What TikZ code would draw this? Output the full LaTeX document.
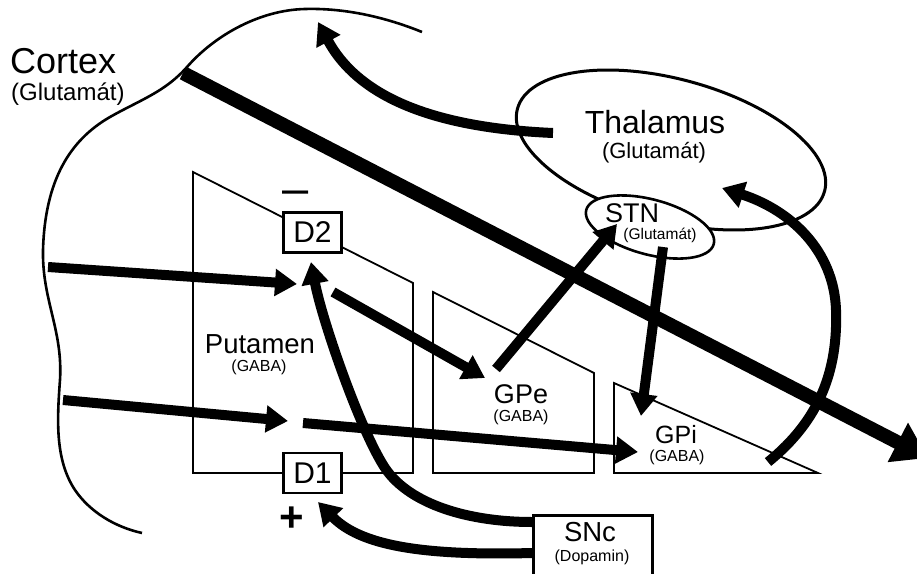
\documentclass[tikz,border=0pt]{standalone}
\usepackage{fontspec}
\setmainfont{Liberation Sans}
\usetikzlibrary{arrows.meta,shapes.geometric}
\newcommand{\txtsize}[1]{\fontsize{#1}{#1}\selectfont}

\begin{document}
\begin{tikzpicture}[x=1pt,y=-1pt,
  outline/.style={line width=2.6pt},
  thinline/.style={line width=1.8pt},
  arr/.style={line width=10pt,-{Triangle[length=22pt,width=26pt]}},
  bigarr/.style={line width=14pt,-{Triangle[length=34pt,width=42pt]}},
  lbl/.style={anchor=base,inner sep=0pt},
  dbox/.style={draw,fill=white,line width=2.6pt,minimum width=58.4pt,minimum height=40pt,inner sep=0pt}]

\useasboundingbox (0,0) rectangle (917,573);

% cortex outline
\draw[outline] (422,32) .. controls (380,15) and (340,8) .. (305,9)
  .. controls (260,10) and (215,35) .. (187,67)
  .. controls (165,92) and (140,100) .. (110,117)
  .. controls (70,140) and (45,180) .. (43,250)
  .. controls (42,300) and (63,330) .. (60,380)
  .. controls (57,420) and (55,460) .. (75,490)
  .. controls (90,512) and (115,527) .. (142,533);

% putamen, GPe, GPi outlines
\draw[thinline] (193,172) -- (413,283) -- (413,473) -- (193,473) -- cycle;
\draw[thinline] (433,292) -- (594,373) -- (594,473) -- (433,473) -- cycle;
\draw[thinline] (614,383) -- (818,473) -- (614,473) -- cycle;

% thalamus and subthalamic nucleus
\node[ellipse,draw,line width=3pt,minimum width=318pt,minimum height=142pt,inner sep=0pt,rotate=-15] (thal) at (671,150) {};
\node[ellipse,draw,fill=white,line width=2.6pt,minimum width=132pt,minimum height=55pt,inner sep=0pt,rotate=-15] (stn) at (650,227) {};

% receptor boxes and SNc
\node[dbox] (d2) at (312.5,232.5) {\txtsize{30}D2};
\node[dbox] (d1) at (312.5,473) {\txtsize{30}D1};
\node[draw,fill=white,line width=2.6pt,minimum width=119.4pt,minimum height=80pt,inner sep=0pt] (snc) at (593,555.3) {};

% arrow end points
\coordinate (ctxA) at (183,73);
\coordinate (ctxE) at (928,458);
\coordinate (thA) at (553,133);
\coordinate (thE) at (318,22);
\coordinate (c1A) at (48,267);
\coordinate (c1E) at (297,284);
\coordinate (c2A) at (63,400);
\coordinate (c2E) at (288,421);
\coordinate (gA) at (303,423);
\coordinate (gE) at (638,452);
\coordinate (d2A) at (333,292);
\coordinate (d2E) at (485,378);
\coordinate (geA) at (496,369);
\coordinate (geE) at (617,224);
\coordinate (stA) at (663,247);
\coordinate (stE) at (641,416);
\coordinate (giA) at (768,462);
\coordinate (giE) at (722,188);
\coordinate (snA) at (532,522);
\coordinate (snE) at (311,262);
\coordinate (snB) at (532,553);
\coordinate (snF) at (318,502);

% connectors
\draw[bigarr] (ctxA) -- (ctxE);
\draw[arr] (thA) .. controls (440,128) and (360,100) .. (thE);
\draw[arr] (c1A) -- (c1E);
\draw[arr] (c2A) -- (c2E);
\draw[arr] (gA) -- (gE);
\draw[arr] (d2A) -- (d2E);
\draw[arr] (geA) -- (geE);
\draw[arr] (stA) -- (stE);
\draw[arr] (giA) .. controls (820,420) and (838,370) .. (836,310)
  .. controls (834,250) and (790,210) .. (giE);
\draw[arr] (snA) .. controls (470,522) and (410,505) .. (385,468)
  .. controls (360,430) and (322,320) .. (snE);
\draw[arr] (snB) .. controls (420,556) and (360,545) .. (snF);

% labels
\node[lbl,anchor=base west] (ctxt) at (10,73) {\txtsize{36}Cortex};
\node[lbl,anchor=base west] (ctxg) at (11,100) {\txtsize{24}(Glutamát)};
\node[lbl] (thalt) at (655,133) {\txtsize{32}Thalamus};
\node[lbl] (thalg) at (654,158) {\txtsize{22}(Glutamát)};
\node[lbl] (stnt) at (632,222) {\txtsize{27}STN};
\node[lbl] (stng) at (660,239) {\txtsize{15.5}(Glutamát)};
\node[lbl] (putt) at (260,353) {\txtsize{27.5}Putamen};
\node[lbl] (putg) at (259,371) {\txtsize{16}(GABA)};
\node[lbl] (gpet) at (521,403) {\txtsize{27}GPe};
\node[lbl] (gpeg) at (521,421) {\txtsize{16}(GABA)};
\node[lbl] (gpit) at (676,443) {\txtsize{25}GPi};
\node[lbl] (gpig) at (677,461) {\txtsize{16}(GABA)};
\node[lbl] (snct) at (590,541) {\txtsize{27.5}SNc};
\node[lbl] (sncg) at (592,561) {\txtsize{16}(Dopamin)};
\node[lbl,anchor=base west] (minus) at (282,204) {\txtsize{47}–};
\node[lbl] (plus) at (291.5,531) {\txtsize{42}\bfseries +};
\end{tikzpicture}
\end{document}
